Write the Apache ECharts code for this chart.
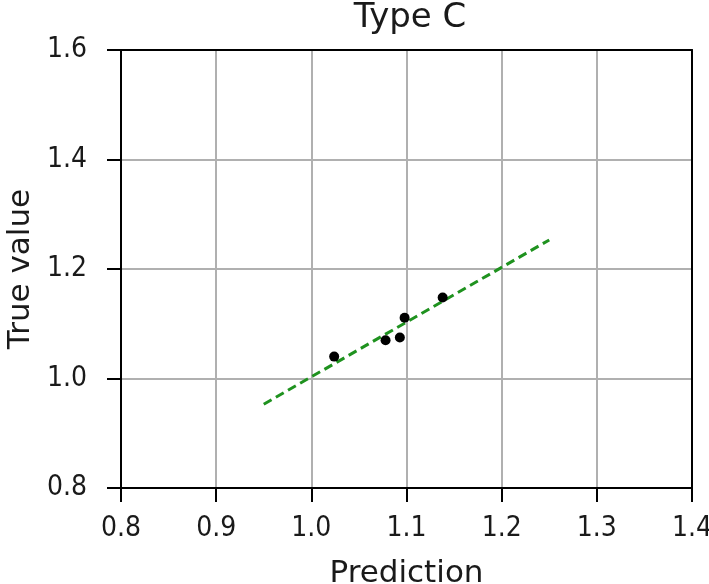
<!DOCTYPE html>
<html>
<head>
<meta charset="utf-8">
<script src="https://cdn.jsdelivr.net/npm/echarts@6/dist/echarts.min.js"></script>
<style>
  html, body { margin: 0; padding: 0; background: #fff; }
  #chart { width: 709px; height: 584px; }
</style>
</head>
<body>
<div id="chart"></div>
<script>
// scatter points
var predX = [1.024, 1.078, 1.093, 1.098, 1.138];
var trueY = [1.040, 1.070, 1.075, 1.111, 1.148];
// fitted dashed line end points
var fitX = [0.95, 1.25];
var fitY = [0.953, 1.253];

var chart = echarts.init(document.getElementById("chart"));
var tickFont = "'DejaVu Sans Condensed', 'DejaVu Sans'";
var font = "'DejaVu Sans'";
var fmt = function (v) { return v.toFixed(1); };

// frame on top / right, like matplotlib spines
var frameAxis = {
  type: "value", min: 0.8, max: 1.4,
  axisLine: { show: true, onZero: false, lineStyle: { color: "#000", width: 2 } },
  axisTick: { show: false }, axisLabel: { show: false }, splitLine: { show: false }
};

chart.setOption({
  animation: false,
  title: {
    text: "Type C",
    left: 405,
    textAlign: "center",
    top: -4,
    textStyle: { fontFamily: font, fontSize: 34, fontWeight: "normal", color: "#1a1a1a" }
  },
  grid: { left: 121, right: 17, top: 50, bottom: 96, outerBoundsMode: "none", containLabel: false },
  xAxis: [{
    type: "value", min: 0.8, max: 1.4, interval: 0.1,
    name: "Prediction", nameLocation: "middle", nameGap: 70,
    nameTextStyle: { fontFamily: font, fontSize: 31, color: "#1a1a1a" },
    axisLine: { show: true, onZero: false, lineStyle: { color: "#000", width: 2 } },
    axisTick: { show: true, inside: false, length: 14, lineStyle: { color: "#000", width: 2 } },
    axisLabel: { fontFamily: tickFont, fontSize: 28, color: "#1a1a1a", margin: 27, formatter: fmt },
    splitLine: { show: true, lineStyle: { color: "#b0b0b0", width: 2 } }
  }, Object.assign({}, frameAxis, { position: "top" })],
  yAxis: [{
    type: "value", min: 0.8, max: 1.6, interval: 0.2,
    name: "True value", nameLocation: "middle", nameGap: 84,
    nameTextStyle: { fontFamily: font, fontSize: 31, color: "#1a1a1a" },
    axisLine: { show: true, onZero: false, lineStyle: { color: "#000", width: 2 } },
    axisTick: { show: true, inside: false, length: 14, lineStyle: { color: "#000", width: 2 } },
    axisLabel: { fontFamily: tickFont, fontSize: 28, color: "#1a1a1a", margin: 34, formatter: fmt },
    splitLine: { show: true, lineStyle: { color: "#b0b0b0", width: 2 } }
  }, Object.assign({}, frameAxis, { position: "right", min: 0.8, max: 1.6 })],
  series: [
    {
      type: "line",
      data: fitX.map(function (x, i) { return [x, fitY[i]]; }),
      showSymbol: false,
      lineStyle: { color: "#1f921f", width: 3, type: [9, 5] },
      z: 3
    },
    {
      type: "scatter",
      data: predX.map(function (x, i) { return [x, trueY[i]]; }),
      symbol: "circle",
      symbolSize: 10,
      itemStyle: { color: "#000", opacity: 1 },
      z: 4
    }
  ]
});
</script>
</body>
</html>
